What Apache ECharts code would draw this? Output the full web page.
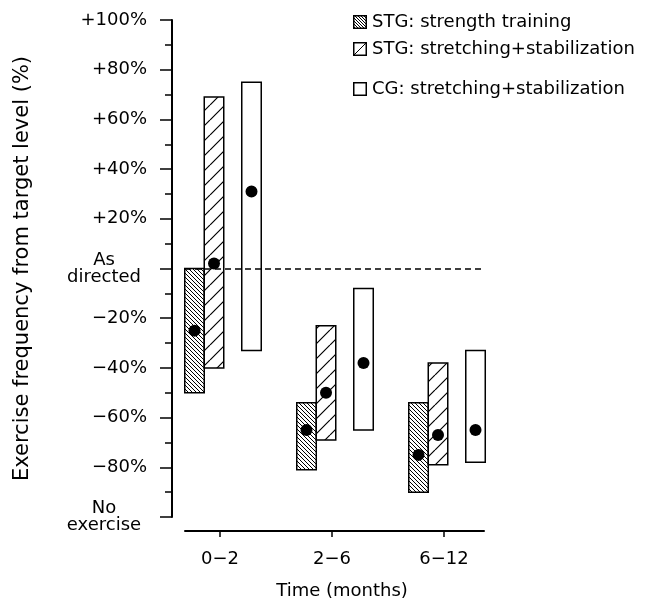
<!DOCTYPE html>
<html>
<head>
  <meta charset="utf-8">
  <title>Exercise frequency from target level</title>
  <script src="https://cdn.jsdelivr.net/npm/echarts@6/dist/echarts.min.js"></script>
</head>
<body style="margin:0;background:#fff">
  <div id="chart" style="width:649px;height:605px;"></div>
  <script>
    // time periods on the x axis
    var periods = ['0\u22122', '2\u22126', '6\u221212'];

    // y axis ticks and their labels
    var yTickValues = [-100, -80, -60, -40, -20, 0, 20, 40, 60, 80, 100];
    var yTickLabels = ['No\nexercise', '\u221280%', '\u221260%', '\u221240%', '\u221220%', 'As\ndirected',
                       '+20%', '+40%', '+60%', '+80%', '+100%'];

    var seriesNames = ['STG: strength training', 'STG: stretching+stabilization', 'CG: stretching+stabilization'];

    // range (low..high) and dot per period
    var strengthLow  = [-50, -81, -90];
    var strengthHigh = [0, -54, -54];
    var strengthDot  = [-25, -65, -75];

    var stretchLow  = [-40, -69, -79];
    var stretchHigh = [69, -23, -38];
    var stretchDot  = [2, -50, -67];

    var cgLow  = [-33, -65, -78];
    var cgHigh = [75, -8, -33];
    var cgDot  = [31, -38, -65];

    var font = 'DejaVu Sans';

    function hatch(size, dir, lw) {
      var c = document.createElement('canvas');
      c.width = size; c.height = size;
      var g = c.getContext('2d');
      g.fillStyle = '#fff';
      g.fillRect(0, 0, size, size);
      g.strokeStyle = '#000';
      g.lineWidth = lw;
      g.beginPath();
      for (var k = -size; k <= size; k += size) {
        if (dir > 0) { g.moveTo(k, size); g.lineTo(k + size, 0); }
        else { g.moveTo(k, 0); g.lineTo(k + size, size); }
      }
      g.stroke();
      return c;
    }

    function icon(kind) {
      var s = 14;
      var c = document.createElement('canvas');
      c.width = s; c.height = s;
      var g = c.getContext('2d');
      g.fillStyle = '#fff';
      g.fillRect(0, 0, s, s);
      g.strokeStyle = '#000';
      g.lineWidth = 1;
      if (kind == 0) {
        g.beginPath();
        for (var k = -s; k <= s; k += 3) { g.moveTo(k, 0); g.lineTo(k + s, s); }
        g.stroke();
      } else if (kind == 1) {
        g.beginPath(); g.moveTo(0, s); g.lineTo(s, 0); g.stroke();
      }
      g.lineWidth = 1.5;
      g.strokeRect(0.75, 0.75, s - 1.5, s - 1.5);
      return 'image://' + c.toDataURL();
    }

    var fills = [
      { image: hatch(4, -1, 1), repeat: 'repeat' },
      { image: hatch(15, 1, 1.2), repeat: 'repeat' },
      '#fff'
    ];
    var offsets = [-25.5, -6, 31.5];

    function rows(low, high, dot) {
      return low.map(function (v, i) { return [i, v, high[i], dot[i]]; });
    }
    var seriesData = [
      rows(strengthLow, strengthHigh, strengthDot),
      rows(stretchLow, stretchHigh, stretchDot),
      rows(cgLow, cgHigh, cgDot)
    ];

    function makeRender(idx) {
      return function (params, api) {
        var x = api.value(0);
        var cx = api.coord([x, 0])[0] + offsets[idx];
        var top = api.coord([x, api.value(2)])[1];
        var bot = api.coord([x, api.value(1)])[1];
        var dy = api.coord([x, api.value(3)])[1];
        var w = 19.5;
        return {
          type: 'group',
          children: [
            { type: 'rect', shape: { x: cx - w / 2, y: top, width: w, height: bot - top },
              style: { fill: fills[idx], stroke: '#000', lineWidth: 1.5 } },
            { type: 'circle', shape: { cx: cx, cy: dy, r: 6 }, style: { fill: '#000' } }
          ]
        };
      };
    }

    var myChart = echarts.init(document.getElementById('chart'));

    var series = seriesNames.map(function (name, i) {
      var s = {
        name: name,
        type: 'custom',
        renderItem: makeRender(i),
        encode: { x: 0, y: [1, 2, 3] },
        data: seriesData[i],
        z: 3
      };
      if (i == 0) {
        s.markLine = {
          silent: true,
          symbol: 'none',
          label: { show: false },
          lineStyle: { color: '#000', type: [6, 4], width: 1.5 },
          data: [{ yAxis: 0 }]
        };
      }
      return s;
    });

    var legendTops = [13, 40, 80];
    var legends = seriesNames.map(function (name, i) {
      return {
        data: [{ name: name, icon: icon(i) }],
        left: 353,
        top: legendTops[i],
        padding: 0,
        itemWidth: 14,
        itemHeight: 14,
        selectedMode: false,
        textStyle: { fontFamily: font, fontSize: 18, color: '#000' }
      };
    });

    var richLabel = {
      two: { fontFamily: font, fontSize: 18, color: '#000', align: 'center', width: 86, lineHeight: 17 }
    };

    myChart.setOption({
      animation: false,
      backgroundColor: '#fff',
      legend: legends,
      grid: { left: 185, right: 165, top: 20, bottom: 87 },
      xAxis: {
        type: 'value',
        min: -0.3125,
        max: 2.357,
        offset: 14,
        name: 'Time (months)',
        nameLocation: 'middle',
        nameGap: 51,
        nameTextStyle: { fontFamily: font, fontSize: 18, color: '#000', padding: [0, 0, 0, 15] },
        axisLine: { onZero: false, lineStyle: { color: '#000', width: 2 } },
        axisTick: { show: true, length: 6, customValues: [0, 1, 2], lineStyle: { color: '#000', width: 1.5 } },
        axisLabel: {
          customValues: [0, 1, 2],
          margin: 19,
          fontFamily: font, fontSize: 18, color: '#000',
          formatter: function (v) { return periods[Math.round(v)]; }
        },
        splitLine: { show: false }
      },
      yAxis: {
        type: 'value',
        min: -100,
        max: 100,
        interval: 20,
        offset: 13,
        name: 'Exercise frequency from target level (%)',
        nameLocation: 'middle',
        nameGap: 139,
        nameTextStyle: { fontFamily: font, fontSize: 21, color: '#000' },
        axisLine: { show: true, onZero: false, lineStyle: { color: '#000', width: 2 } },
        axisTick: { show: true, length: 12, lineStyle: { color: '#000', width: 1.5 } },
        minorTick: { show: true, splitNumber: 2, length: 7, lineStyle: { color: '#000', width: 1.5 } },
        axisLabel: {
          margin: 25,
          fontFamily: font, fontSize: 18, color: '#000',
          rich: richLabel,
          formatter: function (v) {
            var i = yTickValues.indexOf(v);
            var t = i < 0 ? '' : yTickLabels[i];
            if (t.indexOf('\n') >= 0) {
              return t.split('\n').map(function (p) { return '{two|' + p + '}'; }).join('\n');
            }
            return t;
          }
        },
        splitLine: { show: false }
      },
      series: series
    });
  </script>
</body>
</html>
